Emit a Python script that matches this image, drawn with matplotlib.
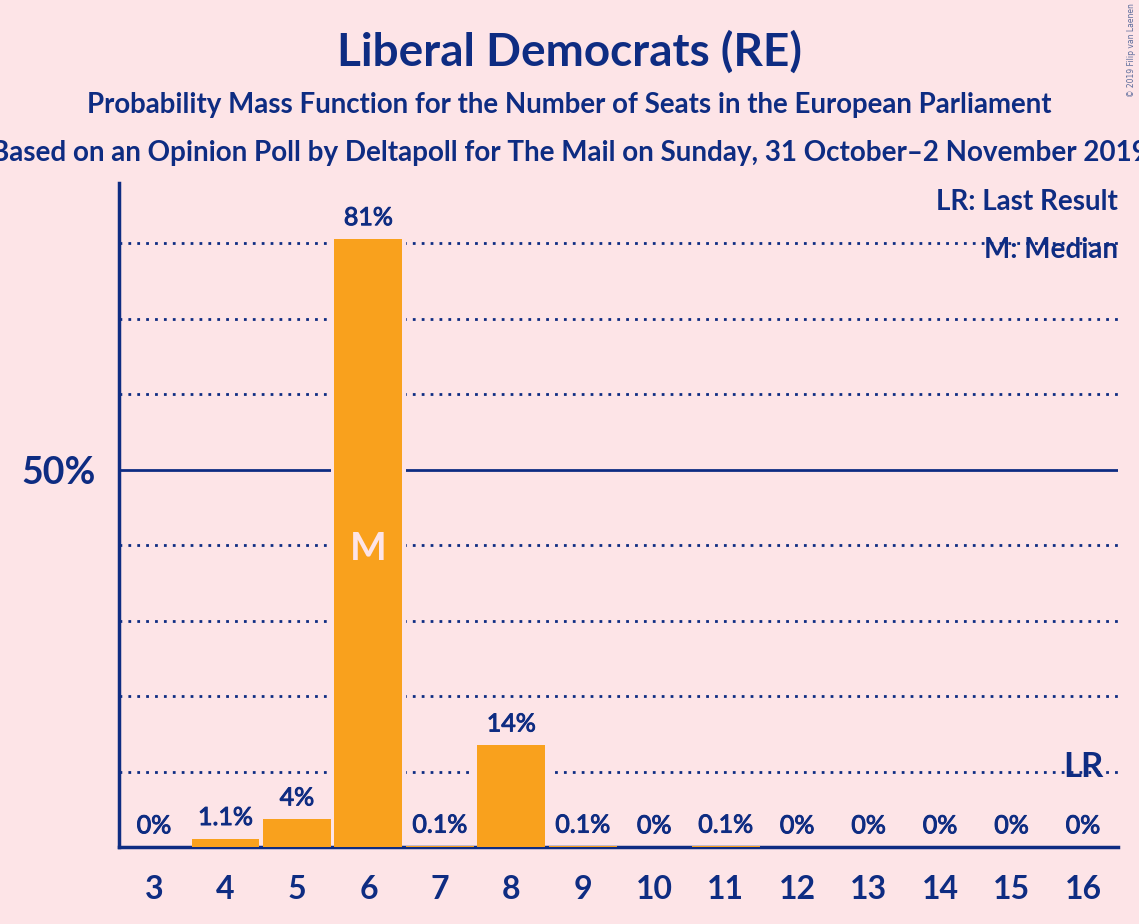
import matplotlib.pyplot as plt
import matplotlib.patheffects as pe
import numpy as np

plt.rcParams['font.family'] = ['Lato', 'DejaVu Sans']

# data
seats = [3, 4, 5, 6, 7, 8, 9, 10, 11, 12, 13, 14, 15, 16]
probs = [0, 1.1, 3.7, 80.6, 0.1, 13.5, 0.1, 0, 0.1, 0, 0, 0, 0, 0]
labels = ['0%', '1.1%', '4%', '81%', '0.1%', '14%', '0.1%', '0%', '0.1%',
          '0%', '0%', '0%', '0%', '0%']
median_seat = 6
last_result = 16

bg = '#FDE4E7'
navy = '#0E2C82'
orange = '#F9A11D'

fig = plt.figure(figsize=(11.39, 9.24), dpi=100, facecolor=bg)
ax = fig.add_axes([0.1045, 0.0833, 0.8771, 0.7186])
ax.set_facecolor(bg)

# grid lines
for g in [10, 20, 30, 40, 60, 70, 80]:
    ax.axhline(g, color=navy, lw=2, ls=(0, (1, 2.2)), zorder=1)
ax.axhline(50, color=navy, lw=2, zorder=1)

# background strips so the grid breaks around the bars
ax.bar(seats, probs, width=1.05, color=bg, zorder=2)
ax.bar(seats, probs, width=0.95, color=orange, zorder=3)

# regular Lato with a thin stroke, close to the medium weight of the original
thick = [pe.withStroke(linewidth=0.7, foreground=navy)]
for s, p, l in zip(seats, probs, labels):
    ax.annotate(l, (s, p), xytext=(0, 7), textcoords='offset points',
                ha='center', va='bottom', fontsize=18, color=navy, zorder=4,
                path_effects=thick)

m = probs[seats.index(median_seat)]
ax.text(median_seat, m / 2 - 0.8, 'M', ha='center', va='center', fontsize=28,
        fontweight='bold', color=bg, zorder=4)
ax.text(last_result, 9.3, 'LR', ha='center', va='baseline', fontsize=25,
        fontweight='bold', color=navy, zorder=4)

ax.set_xlim(2.51, 16.49)
ax.set_ylim(0, 88)
ax.set_xticks(seats)
ax.set_xticklabels([str(s) for s in seats], fontsize=23, fontweight='bold', color=navy)
ax.set_yticks([50])
ax.set_yticklabels(['50%'], fontsize=27, fontweight='bold', color=navy)
ax.tick_params(axis='both', length=0)
ax.tick_params(axis='x', pad=20)
ax.tick_params(axis='y', pad=17)

for sp in ['top', 'right']:
    ax.spines[sp].set_visible(False)
for sp in ['left', 'bottom']:
    ax.spines[sp].set_color(navy)
    ax.spines[sp].set_linewidth(2.5)

fig.text(0.5, 0.944, 'Liberal Democrats (RE)', ha='center', va='center',
         fontsize=33, fontweight='bold', color=navy)
fig.text(0.5, 0.886, 'Probability Mass Function for the Number of Seats in the European Parliament',
         ha='center', va='center', fontsize=19.9, fontweight='bold', color=navy)
# this line runs past both edges in the original too
fig.text(0.5, 0.834, 'Based on an Opinion Poll by Deltapoll for The Mail on Sunday, 31 October\u20132 November 2019',
         ha='center', va='center', fontsize=20, fontweight='bold', color=navy)

fig.text(0.9816, 0.773, 'LR: Last Result', ha='right', va='baseline',
         fontsize=20, fontweight='bold', color=navy)
fig.text(0.9816, 0.721, 'M: Median', ha='right', va='baseline',
         fontsize=20, fontweight='bold', color=navy)

fig.text(0.993, 0.997, '\u00a9 2019 Filip van Laenen', ha='center', va='top',
         rotation=90, fontsize=5.5, color='#5a6a9a', family='DejaVu Sans')

fig.savefig('out.png', dpi=100, facecolor=bg)
